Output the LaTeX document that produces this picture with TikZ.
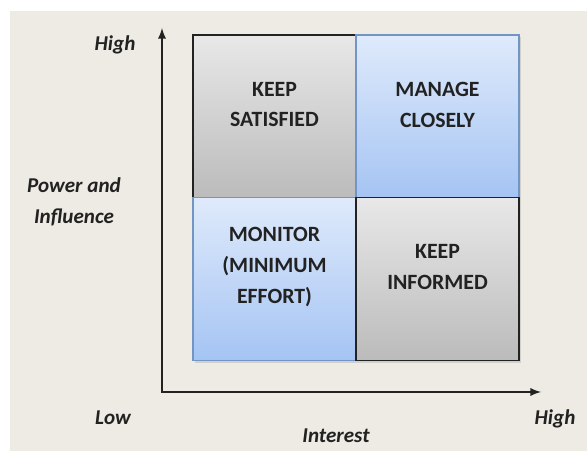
\documentclass[tikz,border=0pt]{standalone}
\usepackage{fontspec}
\setmainfont{Carlito}
\usetikzlibrary{arrows,shadows}

\definecolor{paper}{HTML}{EEEBE4}
\definecolor{greytop}{HTML}{E8E8E8}
\definecolor{greybot}{HTML}{BBBBBB}
\definecolor{bluetop}{HTML}{DFEAFB}
\definecolor{bluebot}{HTML}{A5C4F3}
\definecolor{blueline}{HTML}{7196C6}
\definecolor{ink}{HTML}{222222}

\tikzset{
  quad/.style={rectangle, inner sep=0pt, minimum width=4.075cm, minimum height=4.075cm,
    line width=1.1pt, drop shadow={opacity=0.25, shadow xshift=1.5pt, shadow yshift=-1.5pt}},
  greyquad/.style={quad, draw=ink, top color=greytop, bottom color=greybot},
  bluequad/.style={quad, draw=blueline, top color=bluetop, bottom color=bluebot},
  quadtext/.style={align=center, text=ink, font=\bfseries\fontsize{15.5}{22}\selectfont},
  axislabel/.style={align=center, text=ink, font=\bfseries\itshape\fontsize{15}{22}\selectfont}
}

\begin{document}
\begin{tikzpicture}[x=0.025cm,y=0.025cm]
\useasboundingbox (0,0) rectangle (587,451);
\fill[white] (0,0) rectangle (587,451);
\fill[paper] (10,0) rectangle (587,440);

% the four quadrants
\node[greyquad] (KS) at (274.5,334.5) {};
\node[bluequad] (MC) at (437.5,334.5) {};
\node[bluequad] (MO) at (274.5,172) {};
\node[greyquad] (KI) at (437.5,172) {};

\node[quadtext] at ([yshift=0.3cm]KS.center) {KEEP\\SATISFIED};
\node[quadtext] at ([yshift=0.3cm]MC.center) {MANAGE\\CLOSELY};
\node[quadtext] at ([yshift=0.3cm]MO.center) {MONITOR\\(MINIMUM\\EFFORT)};
\node[quadtext] at ([yshift=0.3cm]KI.center) {KEEP\\INFORMED};

% axes
\coordinate (O) at (162,59);
\coordinate (Y) at (162,423);
\coordinate (X) at (541,59);
\draw[<->, >=latex, line width=1.6pt, ink] (Y) -- (O) -- (X);

\node[axislabel] at (115,406) {High};
\node[axislabel] at (74,249.5) {Power and\\Influence};
\node[axislabel] at (113,33) {Low};
\node[axislabel] at (336,15) {Interest};
\node[axislabel] at (555,32) {High};

\end{tikzpicture}
\end{document}
